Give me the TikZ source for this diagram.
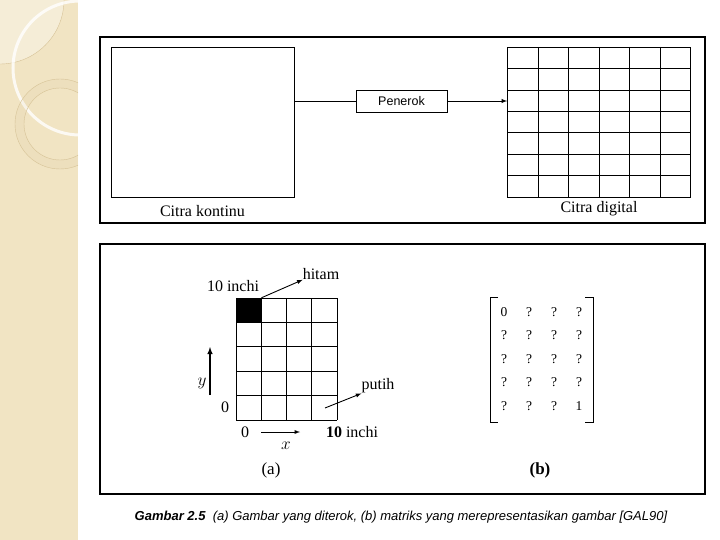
\documentclass[tikz,border=0pt]{standalone}
\usepackage{fontspec}
\setmainfont{Liberation Serif}
\newfontfamily\arialfont{Liberation Sans}
\usetikzlibrary{matrix}
\definecolor{slidetan}{RGB}{241,228,195}
\definecolor{ringtan}{RGB}{214,194,150}
\begin{document}
\begin{tikzpicture}[x=1pt, y=-1pt, every node/.style={inner sep=0pt},
    frame/.style={line width=1.1pt},
    box/.style={draw, line width=0.7pt},
    gridline/.style={line width=0.9pt},
    lbl/.style={font=\fontsize{16}{18}\selectfont},
    arr/.style={line width=0.9pt, -latex}]
    \useasboundingbox (0,0) rectangle (720,540);
    % slide strip on the left
    \fill[slidetan] (0,0) rectangle (78,540);
    \begin{scope}
        \clip (0,0) rectangle (78,540);
        \fill[white, opacity=0.35] (0,0) circle (64);
        \draw[ringtan, line width=0.4pt] (0,0) circle (64);
        \draw[white, line width=3pt, opacity=0.8] (80,68) circle (67);
        \fill[ringtan, opacity=0.12, even odd rule] (60,124) circle (45) (60,124) circle (36);
        \draw[ringtan, line width=0.4pt] (60,124) circle (45) (60,124) circle (36);
    \end{scope}
    % top panel
    \draw[frame] (100,37) rectangle (705,223);
    \node[box, minimum width=183pt, minimum height=150pt] (kontinu) at (202.5,122) {};
    \node[font=\fontsize{16}{18}\selectfont] (kontinulbl) at (202.5,211) {Citra kontinu};
    \node[box, font=\arialfont\fontsize{12.5}{14}\selectfont, minimum width=91pt, minimum height=22pt] (penerok) at (401.5,101) {Penerok};
    \node[box, minimum width=183pt, minimum height=150pt] (digital) at (599,122) {};
    \foreach \i in {1,...,5}
        \draw[gridline] (507.5+\i*30.5,47) -- (507.5+\i*30.5,197);
    \foreach \j in {1,...,6}
        \draw[line width=0.7pt] (507.5,47+\j*21.43) -- (690.5,47+\j*21.43);
    \node[font=\fontsize{16}{18}\selectfont] (digitallbl) at (599,209) {Citra digital};
    \draw[line width=0.7pt] (kontinu.east |- penerok.west) -- (penerok.west);
    \draw[arr] (penerok.east) -- (digital.west |- penerok.east);
    % bottom panel
    \draw[frame] (100,244) rectangle (705,494);
    \node[fill=black, minimum width=25.25pt, minimum height=24.4pt] (hitamcell) at (248.6,310.2) {};
    \foreach \j in {0,...,5}
        \draw[gridline] (236,298+\j*24.4) -- (337,298+\j*24.4);
    \foreach \i in {0,...,4}
        \draw[gridline] (236+\i*25.25,298) -- (236+\i*25.25,420);
    \coordinate (putihcell) at (325,408);
    \node[lbl] (topinchi) at (233,286) {10 inchi};
    \node[lbl] (hitam) at (321,274) {hitam};
    \node[lbl] (putih) at (378,386) {putih};
    \draw[arr] (hitamcell.north east) -- (hitam.south west);
    \draw[arr] (putihcell) -- (putih.south west);
    \node[lbl] (yzero) at (225,407) {0};
    \node[lbl] (ylbl) at (202,383) {$y$};
    \coordinate (ystart) at (210,395);
    \coordinate (yend) at (210,347);
    \draw[line width=1.4pt, -latex] (ystart) -- (yend);
    \node[lbl] (xzero) at (245,432) {0};
    \node[lbl] (xlbl) at (286,446) {$x$};
    \node[lbl] (rightinchi) at (352,432) {\textbf{10} inchi};
    \coordinate (xend) at (300,432);
    \draw[arr] (xzero.east) ++(12,0) -- (xend);
    \node[font=\fontsize{17}{19}\selectfont] (alabel) at (271,470) {(a)};
    % matrix (b)
    \matrix (M) at (541.5,359) [matrix of nodes, nodes={minimum width=25pt, minimum height=23.5pt, font=\fontsize{13.5}{15}\selectfont}]
    {
        0 & ? & ? & ? \\
        ? & ? & ? & ? \\
        ? & ? & ? & ? \\
        ? & ? & ? & ? \\
        ? & ? & ? & 1 \\
    };
    \draw[line width=0.9pt] (498,297) -- (490,297) -- (490,422) -- (498,422);
    \draw[line width=0.9pt] (585,297) -- (593,297) -- (593,422) -- (585,422);
    \node[font=\bfseries\fontsize{17}{19}\selectfont] (blabel) at (540,470) {(b)};
    % caption
    \node[font=\arialfont\itshape\fontsize{13}{15}\selectfont] (caption) at (401,517)
        {{\bfseries Gambar 2.5} \ (a) Gambar yang diterok, (b) matriks yang merepresentasikan gambar [GAL90]};
\end{tikzpicture}
\end{document}
